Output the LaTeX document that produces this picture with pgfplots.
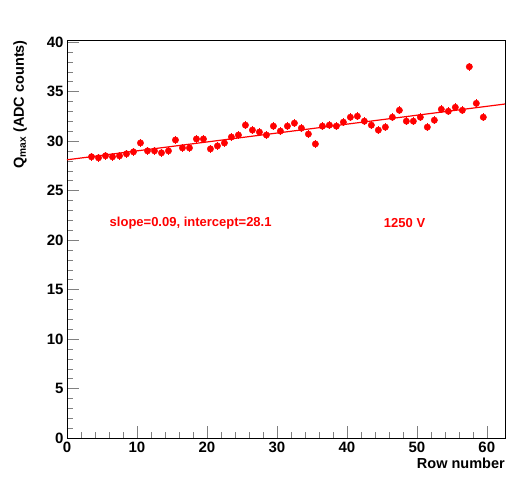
\documentclass[border=0pt]{standalone}
\usepackage{pgfplots}
\pgfplotsset{compat=1.18}
\usepackage{fontspec}
\setmainfont{Liberation Sans}
\begin{document}
\begin{tikzpicture}
\path[use as bounding box] (-67pt,-48pt) rectangle (441pt,438pt);
\begin{axis}[scale only axis,width=438pt,height=398pt,
 at={(0,0)},anchor=south west,
 xmin=0,xmax=62.6,ymin=0,ymax=40.2,
 xtick={0,10,...,60},ytick={0,5,...,40},
 minor x tick num=4, minor y tick num=4,
 tick align=inside, xtick pos=bottom, ytick pos=left,
 major tick length=12pt, minor tick length=6pt,
 ticklabel style={font=\bfseries\fontsize{15}{17}\selectfont},
 /pgf/number format/assume math mode=true,
 xlabel={\bfseries\fontsize{14.5}{16}\selectfont Row number}, ylabel={\bfseries\fontsize{14.5}{16}\selectfont Q$_{\mathbf{max}}$ (ADC counts)},
 xlabel style={at={(1,0)},anchor=north east,yshift=-20pt,inner sep=0pt},
 ylabel style={at={(0,1)},anchor=south east,yshift=40pt,inner sep=0pt},
]
\addplot[red,line width=1.2pt,domain=0:62.6,samples=2] {28.1+0.09*x};
\addplot[red,only marks,mark=*,mark size=3.2pt,error bars/.cd,y dir=both,y explicit,error bar style={line width=1.2pt},error mark=none] table[x=x,y=y,y error expr=0.4] {
x y
3.5 28.4
4.5 28.3
5.5 28.5
6.5 28.4
7.5 28.5
8.5 28.7
9.5 28.9
10.5 29.8
11.5 29.0
12.5 29.0
13.5 28.8
14.5 29.0
15.5 30.1
16.5 29.3
17.5 29.3
18.5 30.2
19.5 30.2
20.5 29.2
21.5 29.5
22.5 29.8
23.5 30.4
24.5 30.6
25.5 31.6
26.5 31.1
27.5 30.9
28.5 30.6
29.5 31.5
30.5 31.0
31.5 31.5
32.5 31.8
33.5 31.3
34.5 30.7
35.5 29.7
36.5 31.5
37.5 31.6
38.5 31.5
39.5 31.9
40.5 32.4
41.5 32.5
42.5 32.0
43.5 31.6
44.5 31.1
45.5 31.4
46.5 32.4
47.5 33.1
48.5 32.0
49.5 32.0
50.5 32.4
51.5 31.4
52.5 32.1
53.5 33.2
54.5 33.0
55.5 33.4
56.5 33.1
57.5 37.5
58.5 33.8
59.5 32.4
};
\node[red,font=\bfseries\fontsize{13}{15}\selectfont,anchor=west] at (axis cs:5.6,21.7) {slope=0.09, intercept=28.1};
\node[red,font=\bfseries\fontsize{13}{15}\selectfont,anchor=west] at (axis cs:44.8,21.7) {1250 V};
\end{axis}
\end{tikzpicture}
\end{document}
